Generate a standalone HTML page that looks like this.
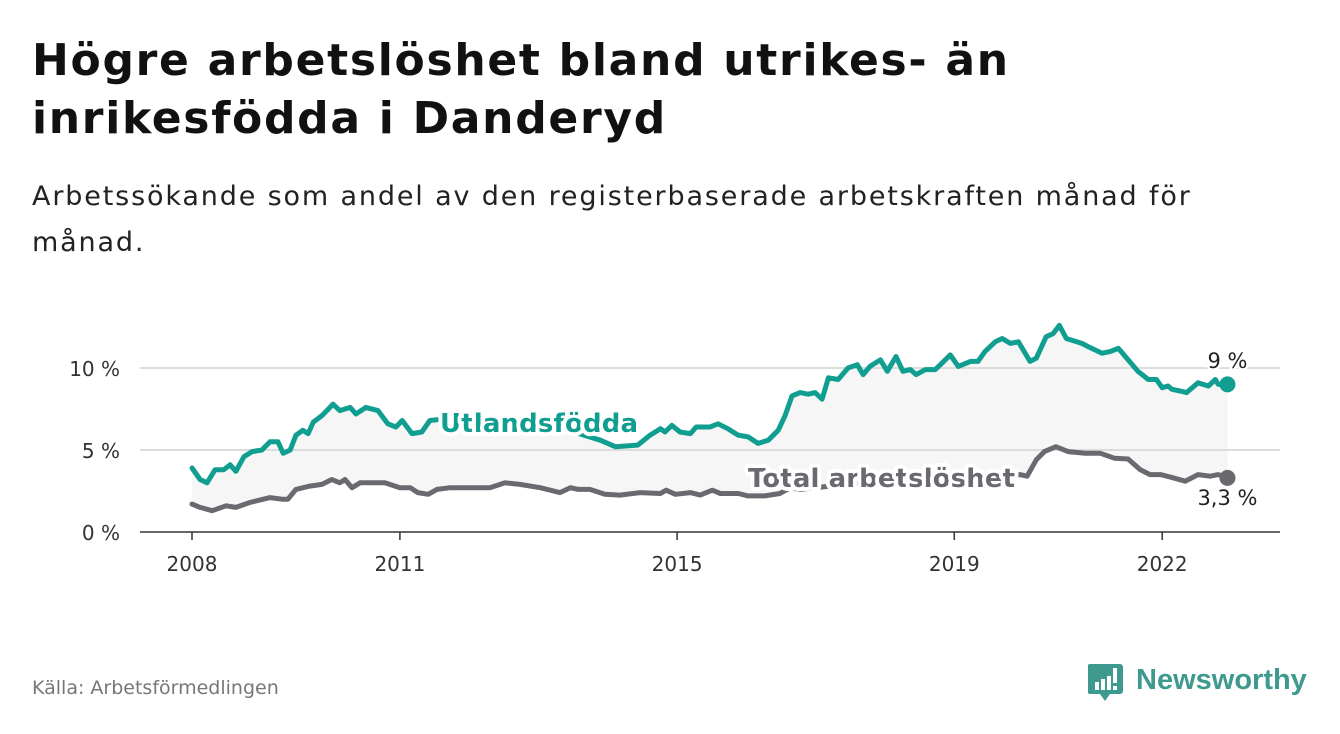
<!DOCTYPE html>
<html><head><meta charset="utf-8">
<style>
body{margin:0;background:#fff;font-family:"DejaVu Sans","Liberation Sans",sans-serif;}
#wrap{position:relative;width:1340px;height:734px;overflow:hidden;background:#fff;}
h1{position:absolute;left:32px;top:32px;margin:0;font-size:44px;line-height:58px;font-weight:bold;color:#111;letter-spacing:1.7px;}
.sub{position:absolute;left:32px;top:174px;margin:0;font-size:27px;line-height:46px;color:#222;letter-spacing:1.85px;}
.src{position:absolute;left:32px;top:677px;font-size:19px;color:#777;}
svg text{font-family:"DejaVu Sans","Liberation Sans",sans-serif;}
</style></head><body>
<div id="wrap">
<h1>Högre arbetslöshet bland utrikes- än<br>inrikesfödda i Danderyd</h1>
<p class="sub">Arbetssökande som andel av den registerbaserade arbetskraften månad för<br>månad.</p>
<svg id="chart" width="1340" height="734" style="position:absolute;left:0;top:0"></svg>
<div class="src">Källa: Arbetsförmedlingen</div>
<div style="position:absolute;left:1088px;top:662px;">
<svg width="230" height="42">
<path d="M2 2h30a3 3 0 0 1 3 3v24a3 3 0 0 1-3 3h-10l-5 7-5-7h-10a3 3 0 0 1-3-3v-24a3 3 0 0 1 3-3z" fill="#3e9a8f"/>
<rect x="7" y="20" width="4" height="8" fill="#fff"/><rect x="13" y="17" width="4" height="11" fill="#fff"/><rect x="19" y="14" width="4" height="14" fill="#fff"/><rect x="25" y="6" width="4" height="15" fill="#fff"/><rect x="25" y="24" width="4" height="4" fill="#fff"/>
<text x="48" y="27" font-size="29" font-weight="bold" fill="#3e9a8f" style="font-family:'Liberation Sans',sans-serif">Newsworthy</text>
</svg></div>
</div>
<script>
// months since Jan 2008
const utlMonths=[0,1.4,2.6,4,5.5,6.6,7.6,9,10.4,12.1,13.5,14.9,15.8,17,18,19.2,20.1,21,22.5,23.9,24.4,25.6,27.4,28.4,30.1,32.2,33.9,35.3,36.4,38.1,39.8,41.2,44,48,52,56,60,64,67,70.7,73.3,77.2,79.3,81.1,81.9,83.1,84.5,86.3,87.3,89.7,91.1,92.8,94.6,96.3,98,99.8,101.5,102.7,103.9,105.3,106.7,107.9,109.1,110.2,111.9,113.6,115.2,116.2,117.4,119.2,120.4,121.9,123.1,124.4,125.4,127,128.7,129.6,131.3,132.7,134.8,136.1,137.3,139.1,140.3,141.7,143.1,145.1,146.2,147.9,149.1,150.2,151.4,154.1,155.2,157.6,159,160.4,162.1,163.8,165.6,167,168,169,169.7,171.1,172.2,174.2,176,177.2,177.7,179.3];
const utlValues=[3.9,3.2,3.0,3.8,3.8,4.1,3.7,4.6,4.9,5.0,5.5,5.5,4.8,5.0,5.9,6.2,6.0,6.7,7.1,7.6,7.8,7.4,7.6,7.2,7.6,7.4,6.6,6.4,6.8,6.0,6.1,6.8,6.9,6.7,6.8,6.5,6.6,6.3,6.0,5.6,5.2,5.3,5.9,6.3,6.1,6.5,6.1,6.0,6.4,6.4,6.6,6.3,5.9,5.8,5.4,5.6,6.2,7.1,8.3,8.5,8.4,8.5,8.1,9.4,9.3,10.0,10.2,9.6,10.1,10.5,9.8,10.7,9.8,9.9,9.6,9.9,9.9,10.2,10.8,10.1,10.4,10.4,11.0,11.6,11.8,11.5,11.6,10.4,10.6,11.9,12.1,12.6,11.8,11.5,11.3,10.9,11.0,11.2,10.5,9.8,9.3,9.3,8.8,8.9,8.7,8.6,8.5,9.1,8.9,9.3,9.0,9.0];
const totMonths=[0,1.4,3.5,5.9,7.6,10,13.5,15.6,16.6,18,20.4,22.5,24.2,25.6,26.5,27.7,29.1,31.7,33.4,36,37.8,39.1,40.9,42.4,44.7,48.1,51.6,54.2,56.8,60.3,63.7,65.5,66.9,68.9,71.5,74.1,77.6,81.1,82.1,83.7,86.3,88,90.1,91.5,94.6,96.3,99.2,101.8,103.6,105.3,110.5,115.7,120.9,126.1,131.3,136.5,139.9,143.4,144.6,146.2,147.6,149.6,151.7,154.7,157.3,159.7,162.1,164.2,165.9,167.7,169.4,172,174.2,176.3,177.7,179.3];
const totValues=[1.7,1.5,1.3,1.6,1.5,1.8,2.1,2.0,2.0,2.6,2.8,2.9,3.2,3.0,3.2,2.7,3.0,3.0,3.0,2.7,2.7,2.4,2.3,2.6,2.7,2.7,2.7,3.0,2.9,2.7,2.4,2.7,2.6,2.6,2.3,2.25,2.4,2.35,2.55,2.3,2.4,2.25,2.55,2.35,2.35,2.2,2.2,2.35,2.7,2.6,2.8,3.0,3.0,2.9,2.9,3.0,3.3,3.5,3.4,4.4,4.9,5.2,4.9,4.8,4.8,4.5,4.45,3.8,3.5,3.5,3.35,3.1,3.5,3.4,3.5,3.3];
const yTicks=[0,5,10];
const yTickLabels=["0 %","5 %","10 %"];
const xTicks=[0,36,84,132,168];
const xTickLabels=["2008","2011","2015","2019","2022"];

const NS="http://www.w3.org/2000/svg";
const svg=document.getElementById('chart');
const X=m=>192+m*5.775;
const Y=v=>532-v*16.4;
function el(t,a,p){const e=document.createElementNS(NS,t);for(const k in a)e.setAttribute(k,a[k]);(p||svg).appendChild(e);return e;}

const lastU=utlMonths[utlMonths.length-1];
let d=utlMonths.map((m,i)=>(i?'L':'M')+X(m)+' '+Y(utlValues[i])).join(' ');
for(let i=totMonths.length-1;i>=0;i--)d+=' L'+X(totMonths[i])+' '+Y(totValues[i]);
const area=el('path',{d:d+'Z',fill:'#f6f6f6'});



yTicks.forEach((v,i)=>{
  if(v>0){const g=el('line',{x1:140,x2:1280,y1:Y(v),y2:Y(v),stroke:'#dcdcdc','stroke-width':2});
  
  }
  const t=el('text',{x:120,y:Y(v)+8,'text-anchor':'end','font-size':20,fill:'#333'});
  t.textContent=yTickLabels[i];
  
  
});
const ax=el('line',{x1:140,x2:1280,y1:532,y2:532,stroke:'#333','stroke-width':1.5});


xTicks.forEach((m,i)=>{
  const tk=el('line',{x1:X(m),x2:X(m),y1:532,y2:540,stroke:'#333','stroke-width':1.5});
  
  
  const t=el('text',{x:X(m),y:571,'text-anchor':'middle','font-size':20,fill:'#333'});
  t.textContent=xTickLabels[i];
  
  
});

function line(ms,vs,col,name){
  const p=el('path',{d:ms.map((m,i)=>(i?'L':'M')+X(m).toFixed(1)+' '+Y(vs[i]).toFixed(1)).join(' '),fill:'none',stroke:col,'stroke-width':5,'stroke-linejoin':'round','stroke-linecap':'round'});
  
  
  const n=ms.length-1;
  const c=el('circle',{cx:X(ms[n]),cy:Y(vs[n]),r:8,fill:col});
  
  
}
line(totMonths,totValues,'#6b6870','total-line');
line(utlMonths,utlValues,'#0f9e90','utlandsfodda-line');

function label(x,y,txt,col,name,size,weight,anchor,len){
  const a={x:x,y:y,'font-size':size,'font-weight':weight,fill:col,stroke:'#fff','stroke-width':weight==='bold'?8:5,'paint-order':'stroke','stroke-linejoin':'round','text-anchor':anchor||'start'};
  if(len)a.textLength=len;
  const t=el('text',a);
  t.textContent=txt;
  
  
}
label(440,432,'Utlandsfödda','#0f9e90','series-label-utlandsfodda',26,'bold','start',198);
label(748,487,'Total arbetslöshet','#6b6870','series-label-total',26,'bold','start',267);
label(X(lastU),368,'9 %','#222','end-label-utlandsfodda',21,'normal','middle');
label(X(lastU),505,'3,3 %','#222','end-label-total',21,'normal','middle');
</script>
</body></html>
